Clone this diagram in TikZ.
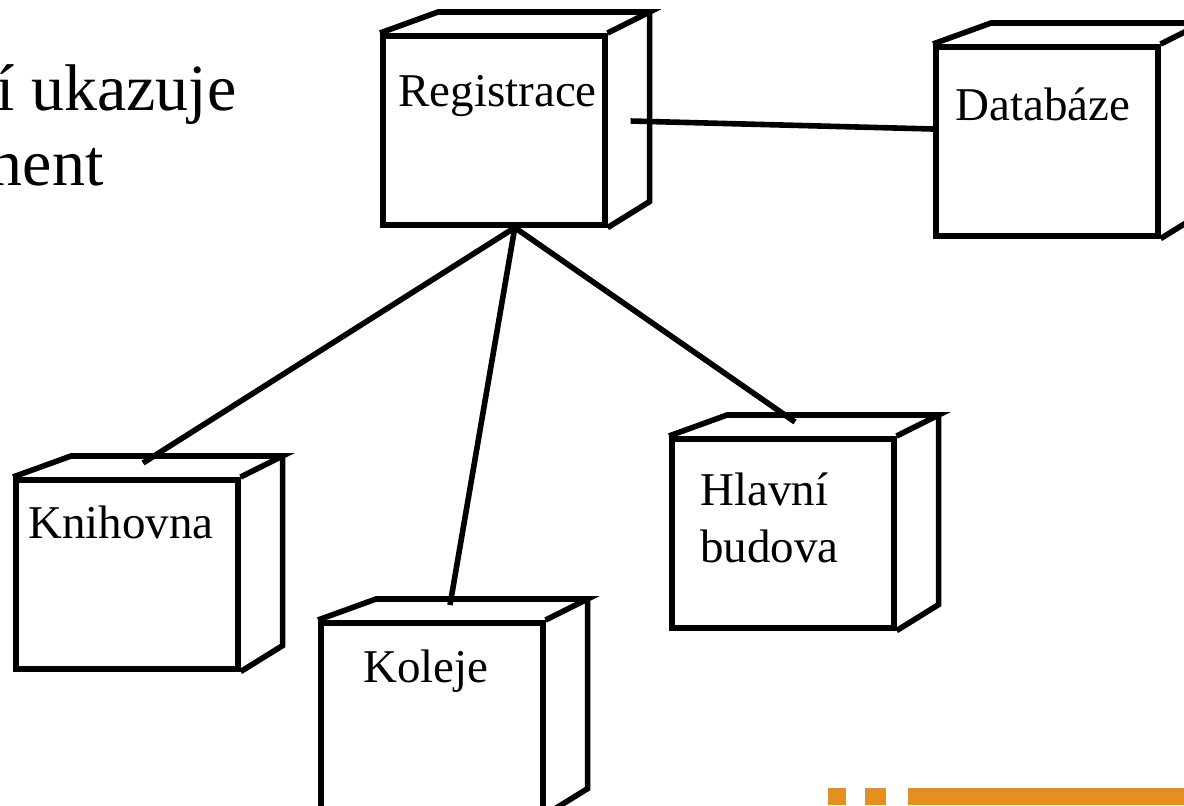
\documentclass[tikz,border=0pt]{standalone}
\usepackage{fontspec}
\setmainfont{Liberation Serif}
\usepackage{xcolor}
\usepackage{tikz}

\definecolor{barorange}{HTML}{E3901E}

\begin{document}
\begin{tikzpicture}[
    x=0.5pt, y=-0.5pt,
    front/.style={
        rectangle,
        draw,
        line width=2.8pt,
        inner sep=0pt,
        minimum width=111pt,
        minimum height=94.5pt,
        anchor=north west
    },
    edge/.style={line width=2.8pt},
    link/.style={line width=2.8pt},
    boxlabel/.style={font=\fontsize{23.5}{28.5}\selectfont, inner sep=0pt, anchor=base west, align=left},
    heading/.style={font=\fontsize{33}{37.5}\selectfont, inner sep=0pt, anchor=base east},
    bar/.style={fill=barorange}
]
\useasboundingbox (0,0) rectangle (1184,805);
\clip (0,0) rectangle (1184,805);

% Intro text
\node[heading] (intro1) at (237,110) {ní ukazuje};
\node[heading] (intro2) at (104,185) {nent};

% Front faces
\node[front] (reg) at (380,33) {};
\node[front] (db) at (933,44) {};
\node[front] (lib) at (13,477) {};
\node[front] (kol) at (318,620) {};
\node[front] (hb) at (669,436) {};

% Top and side faces
\foreach \n in {reg,db,lib,kol,hb}
  \draw[edge] (\n.north west) -- ++(58,-21) -- ([shift={(42,-21)}]\n.north east) -- (\n.north east)
              ([shift={(42,-21)}]\n.north east) -- ([shift={(42,-26)}]\n.south east) -- (\n.south east);

% Labels
\node[boxlabel] (reglbl) at ([shift={(18,73)}]reg.north west) {Registrace};
\node[boxlabel] (dblbl) at ([shift={(22,76)}]db.north west) {Databáze};
\node[boxlabel] (liblbl) at ([shift={(15,61)}]lib.north west) {Knihovna};
\node[boxlabel] (kollbl) at ([shift={(45,62)}]kol.north west) {Koleje};
\node[boxlabel] (hblbl) at ([shift={(31,126)}]hb.north west) {Hlavní\\budova};

% Connections
\draw[link] ([shift={(21,0)}]reg.south) -- ([shift={(130,-14)}]lib.north west);
\draw[link] ([shift={(21,0)}]reg.south) -- ([shift={(132,-15)}]kol.north west);
\draw[link] ([shift={(21,0)}]reg.south) -- ([shift={(126,-14)}]hb.north west);
\draw[link] ([shift={(23,88)}]reg.north east) -- ([shift={(0,85)}]db.north west);

% Footer bars
\fill[bar] (828,788) rectangle (846,805);
\fill[bar] (865,788) rectangle (886,805);
\fill[bar] (908,788) rectangle (1184,805);

\end{tikzpicture}
\end{document}
